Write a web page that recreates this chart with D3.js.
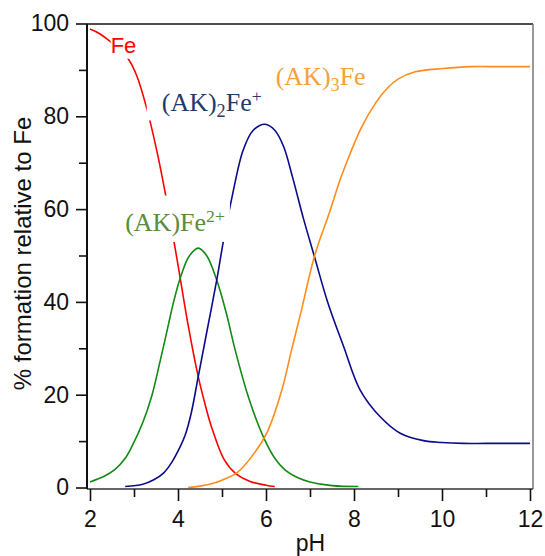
<!DOCTYPE html>
<html><head><meta charset="utf-8">
<script src="https://cdn.jsdelivr.net/npm/d3@7"></script>
<style>body{margin:0;background:#fff}</style>
</head><body>
<svg id="c" width="545" height="556" xmlns="http://www.w3.org/2000/svg"></svg>
<script>
// ---- data ----
const pH_Fe  = [2.0, 2.2, 2.45, 2.65, 2.86, 3.06, 3.29, 3.52, 3.7, 3.9, 4.05, 4.23, 4.46, 4.6, 4.76, 5.05, 5.3, 5.64, 6.0, 6.2];
const val_Fe = [98.8, 97.9, 96.2, 94.6, 92.5, 88.8, 81.7, 72.5, 64.0, 53.5, 45.1, 35.0, 23.9, 18.5, 13.1, 6.0, 3.1, 1.3, 0.5, 0.2];

const pH_AKFe  = [2.0, 2.3, 2.57, 2.8, 2.95, 3.2, 3.4, 3.6, 3.78, 3.9, 4.05, 4.25, 4.46, 4.65, 4.88, 5.1, 5.3, 5.6, 5.94, 6.2, 6.43, 6.7, 7.0, 7.5, 8.1];
const val_AKFe = [1.2, 2.3, 3.9, 6.3, 8.8, 14.0, 19.6, 27.5, 35.0, 40.0, 45.1, 49.8, 51.6, 50.0, 44.7, 37.5, 29.6, 19.5, 10.9, 6.3, 3.8, 2.2, 1.2, 0.4, 0.2];

const pH_AK2Fe  = [2.8, 3.2, 3.44, 3.67, 3.85, 4.05, 4.16, 4.3, 4.46, 4.65, 4.88, 5.03, 5.23, 5.48, 5.71, 5.98, 6.2, 6.4, 6.6, 6.85, 7.1, 7.4, 7.76, 8.14, 8.59, 9.05, 9.58, 10.0, 10.48, 11.0, 12.0];
const val_AK2Fe = [0.2, 0.7, 1.6, 3.1, 5.3, 8.8, 11.2, 16.0, 23.9, 33.3, 44.7, 53.0, 62.7, 72.7, 77.0, 78.3, 77.0, 73.5, 67.0, 58.0, 49.8, 40.0, 30.5, 21.0, 15.3, 11.7, 10.1, 9.7, 9.5, 9.5, 9.5];

const pH_AK3Fe  = [4.23, 4.5, 4.8, 5.05, 5.33, 5.67, 6.03, 6.36, 6.58, 6.8, 7.1, 7.45, 7.68, 7.83, 8.17, 8.5, 8.75, 9.0, 9.39, 10.03, 10.64, 11.3, 12.0];
const val_AK3Fe = [0.0, 0.3, 0.9, 1.8, 3.1, 6.6, 12.0, 21.0, 29.6, 38.0, 49.8, 59.5, 66.2, 70.0, 77.6, 83.0, 86.0, 88.0, 89.6, 90.3, 90.7, 90.7, 90.7];

const xTicks = [2, 4, 6, 8, 10, 12];
const xMinor = [3, 5, 7, 9, 11];
const yTicks = [0, 20, 40, 60, 80, 100];
const yMinor = [10, 30, 50, 70, 90];

const xTitle = "pH";
const yTitle = "% formation relative to Fe";

// ---- layout ----
const svg = d3.select("#c");
const x = d3.scaleLinear().domain([2, 12]).range([90, 530]);
const y = d3.scaleLinear().domain([0, 100]).range([487.5, 23.5]);
const frame = {l: 87, r: 533, t: 24, b: 489};

const series = [
  {px: pH_Fe,    v: val_Fe,    color: "#ff0000"},
  {px: pH_AKFe,  v: val_AKFe,  color: "#138a13"},
  {px: pH_AK2Fe, v: val_AK2Fe, color: "#0b0b8c"},
  {px: pH_AK3Fe, v: val_AK3Fe, color: "#ff8c1a"}
];

const line = d3.line().x(d => x(d[0])).y(d => y(d[1])).curve(d3.curveCatmullRom.alpha(0.5));
svg.append("g").selectAll("path").data(series).join("path")
  .attr("d", s => line(s.px.map((p, i) => [p, s.v[i]])))
  .attr("fill", "none").attr("stroke", s => s.color).attr("stroke-width", 1.6);

// ---- labels with white knockout boxes ----
const labels = [
  {pH: 2.47, v: 93.7, color: "#ff0000", family: "'Liberation Sans', Arial, sans-serif", size: 22,
   parts: [["Fe", 0]], pad: {l: 0, r: 3, t: 2, b: 1}},
  {pH: 3.63, v: 81.1, color: "#1f3a6b", family: "'Liberation Serif', 'Times New Roman', serif", size: 26,
   parts: [["(AK)", 0], ["2", 1], ["Fe", 0], ["+", 2]], pad: {l: 15, r: 6, t: 4, b: -1}},
  {pH: 6.22, v: 86.8, color: "#f5a13a", family: "'Liberation Serif', 'Times New Roman', serif", size: 26,
   parts: [["(AK)", 0], ["3", 1], ["Fe", 0]], pad: {l: 4, r: 10, t: 4, b: 1}},
  {pH: 2.80, v: 55.3, color: "#5b8c3a", family: "'Liberation Serif', 'Times New Roman', serif", size: 26,
   parts: [["(AK)", 0], ["Fe", 0], ["2+", 2]], pad: {l: 4, r: 5, t: 10, b: 5}}
];

labels.forEach(L => {
  const g = svg.append("g");
  const rect = g.append("rect").attr("fill", "#fff");
  const t = g.append("text").attr("x", x(L.pH)).attr("y", y(L.v))
    .attr("font-family", L.family).attr("font-size", L.size).attr("fill", L.color);
  let shift = 0;
  L.parts.forEach(([txt, kind]) => {
    const ts = t.append("tspan").text(txt);
    let target = 0, fs = L.size;
    if (kind === 1) { target = 0.24 * L.size; fs = 0.7 * L.size; }
    if (kind === 2) { target = -0.36 * L.size; fs = 0.68 * L.size; }
    ts.attr("font-size", fs).attr("dy", target - shift);
    shift = target;
  });
  const bb = t.node().getBBox();
  rect.attr("x", bb.x - L.pad.l).attr("y", bb.y - L.pad.t)
    .attr("width", bb.width + L.pad.l + L.pad.r).attr("height", bb.height + L.pad.t + L.pad.b);
});

// ---- frame ----
const fr = svg.append("g").attr("fill", "none");
fr.append("line").attr("x1", frame.l).attr("x2", frame.r).attr("y1", frame.t).attr("y2", frame.t).attr("stroke", "#111").attr("stroke-width", 1.5);
fr.append("line").attr("x1", frame.r).attr("x2", frame.r).attr("y1", frame.t).attr("y2", frame.b).attr("stroke", "#777").attr("stroke-width", 1.5);
fr.append("line").attr("x1", frame.l).attr("x2", frame.r).attr("y1", frame.b).attr("y2", frame.b).attr("stroke", "#333").attr("stroke-width", 1.5);
fr.append("line").attr("x1", frame.l).attr("x2", frame.l).attr("y1", frame.t).attr("y2", frame.b).attr("stroke", "#111").attr("stroke-width", 2);

// ---- axes ----
const sans = "'Liberation Sans', Arial, Helvetica, sans-serif";
const gy = svg.append("g").attr("transform", `translate(${frame.l},0)`)
  .call(d3.axisLeft(y).tickValues(yTicks).tickSize(11).tickPadding(7).tickFormat(d3.format("d")));
const gym = svg.append("g").attr("transform", `translate(${frame.l},0)`)
  .call(d3.axisLeft(y).tickValues(yMinor).tickSize(8).tickFormat(""));
const gx = svg.append("g").attr("transform", `translate(0,${frame.b})`)
  .call(d3.axisBottom(x).tickValues(xTicks).tickSize(12).tickPadding(10).tickFormat(d3.format("d")));
const gxm = svg.append("g").attr("transform", `translate(0,${frame.b})`)
  .call(d3.axisBottom(x).tickValues(xMinor).tickSize(8).tickFormat(""));
[gy, gym, gx, gxm].forEach(g => {
  g.select(".domain").remove();
  g.selectAll(".tick line").attr("stroke", "#111").attr("stroke-width", 1.6);
  g.selectAll(".tick text").attr("font-family", sans).attr("font-size", 23).attr("fill", "#111");
});

svg.append("text").attr("x", (x(2) + x(12)) / 2 + 0.5).attr("y", 551)
  .attr("text-anchor", "middle").attr("font-family", sans).attr("font-size", 23).attr("fill", "#111").text(xTitle);
svg.append("text").attr("transform", `translate(31,${(y(0) + y(100)) / 2 - 2}) rotate(-90)`)
  .attr("text-anchor", "middle").attr("font-family", sans).attr("font-size", 24).attr("fill", "#111").text(yTitle);
</script>
</body></html>
